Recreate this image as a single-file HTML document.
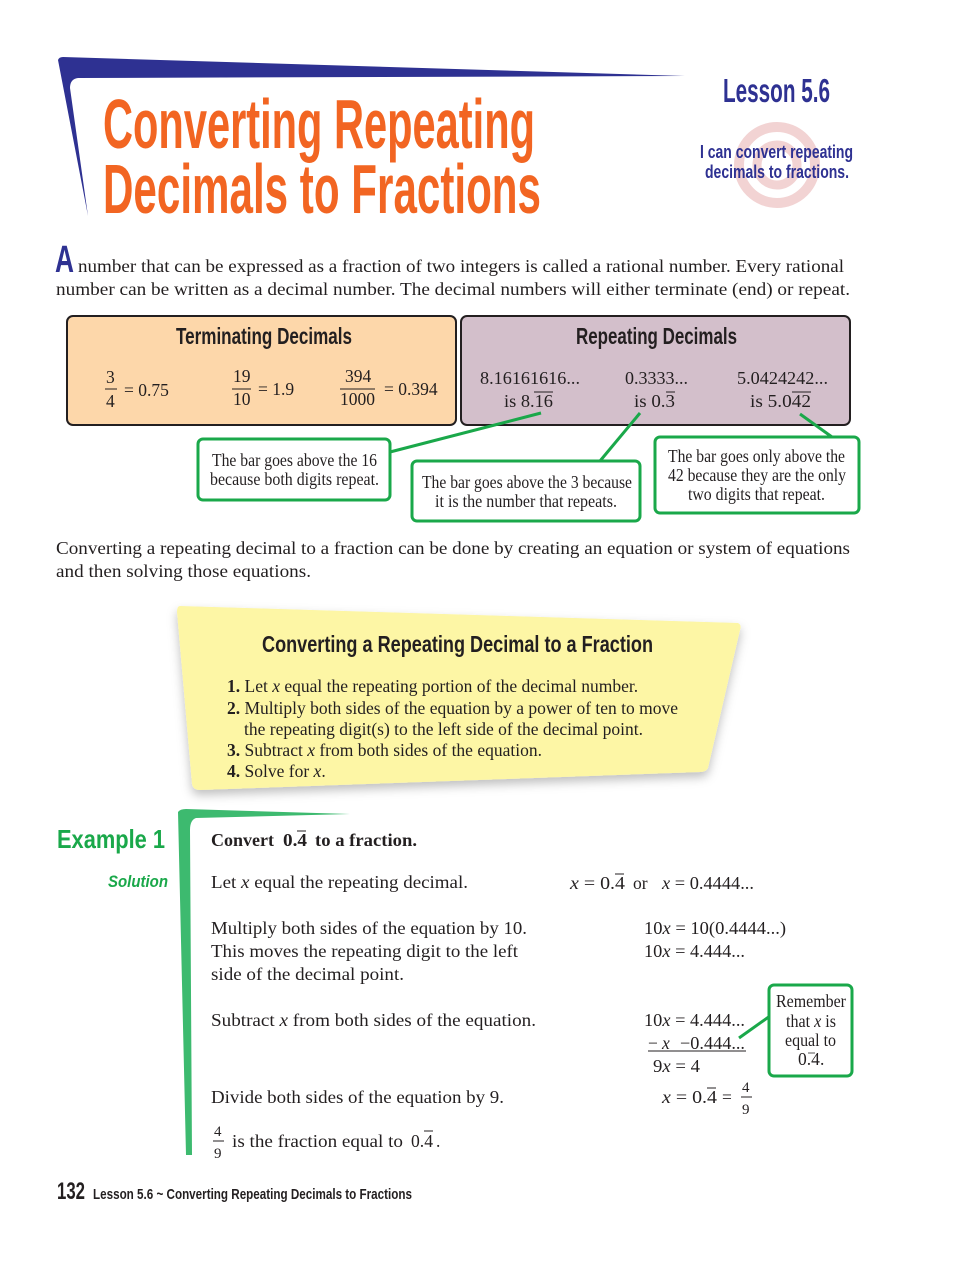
<!DOCTYPE html>
<html><head><meta charset="utf-8"><style>
html,body{margin:0;padding:0;background:#fff;}
svg{display:block}
.s{font-family:"Liberation Serif",serif;font-size:17.5px;fill:#231f20}
.c{font-family:"Liberation Sans Narrow","Liberation Sans",sans-serif;font-weight:bold}
.i{font-style:italic}
</style></head><body>
<svg width="979" height="1266" viewBox="0 0 979 1266" xmlns="http://www.w3.org/2000/svg">
<defs>
<filter id="sh" x="-10%" y="-10%" width="120%" height="130%"><feDropShadow dx="0" dy="5" stdDeviation="5" flood-color="#000" flood-opacity="0.25"/></filter>
</defs>
<path d="M58,60 Q59,57 63,57 L685,76 L78,78 Q70,79 70,88 L88,216 Z" fill="#2e3192"/>
<text class="c" x="103" y="148" font-size="70" fill="#f26522" textLength="432" lengthAdjust="spacingAndGlyphs">Converting Repeating</text>
<text class="c" x="103" y="213" font-size="70" fill="#f26522" textLength="438" lengthAdjust="spacingAndGlyphs">Decimals to Fractions</text>
<text class="c" x="723" y="102" font-size="33" fill="#2e3192" textLength="107" lengthAdjust="spacingAndGlyphs">Lesson 5.6</text>
<circle cx="777" cy="165" r="38" fill="none" stroke="#f2d3d3" stroke-width="10"/>
<circle cx="777" cy="165" r="20" fill="none" stroke="#f2d3d3" stroke-width="9"/>
<text class="c" x="700" y="158" font-size="18" fill="#2e3192" textLength="153" lengthAdjust="spacingAndGlyphs">I can convert repeating</text>
<text class="c" x="705" y="178" font-size="18" fill="#2e3192" textLength="144" lengthAdjust="spacingAndGlyphs">decimals to fractions.</text>

<text class="c" x="55" y="272" font-size="38" fill="#2e3192" textLength="19" lengthAdjust="spacingAndGlyphs">A</text>
<text class="s" x="78" y="272" textLength="766" lengthAdjust="spacingAndGlyphs">number that can be expressed as a fraction of two integers is called a rational number. Every rational</text>
<text class="s" x="56" y="295" textLength="794" lengthAdjust="spacingAndGlyphs">number can be written as a decimal number. The decimal numbers will either terminate (end) or repeat.</text>

<rect x="67" y="316" width="389" height="109" rx="6" fill="#fdd7aa" stroke="#231f20" stroke-width="2"/>
<rect x="461" y="316" width="389" height="109" rx="6" fill="#d3bfcb" stroke="#231f20" stroke-width="2"/>
<text class="c" x="176" y="344" font-size="23" fill="#231f20" textLength="176" lengthAdjust="spacingAndGlyphs">Terminating Decimals</text>
<text class="c" x="576" y="344" font-size="23" fill="#231f20" textLength="161" lengthAdjust="spacingAndGlyphs">Repeating Decimals</text>
<g class="s" font-size="16">
<text x="106" y="383">3</text><line x1="105" y1="389" x2="117" y2="389" stroke="#231f20"/><text x="106" y="407">4</text>
<text x="124" y="396">= 0.75</text>
<text x="233" y="382">19</text><line x1="232" y1="389" x2="251" y2="389" stroke="#231f20"/><text x="233" y="405">10</text>
<text x="258" y="395">= 1.9</text>
<text x="345" y="382">394</text><line x1="340" y1="389" x2="375" y2="389" stroke="#231f20"/><text x="340" y="405">1000</text>
<text x="384" y="395">= 0.394</text>
<text x="480" y="384" textLength="100" lengthAdjust="spacingAndGlyphs">8.16161616...</text><text x="504" y="407" textLength="49" lengthAdjust="spacingAndGlyphs">is 8.16</text>
<line x1="534" y1="392" x2="553" y2="392" stroke="#231f20"/>
<text x="625" y="384" textLength="63" lengthAdjust="spacingAndGlyphs">0.3333...</text><text x="634" y="407" textLength="41" lengthAdjust="spacingAndGlyphs">is 0.3</text>
<line x1="666" y1="392" x2="675" y2="392" stroke="#231f20"/>
<text x="737" y="384" textLength="91" lengthAdjust="spacingAndGlyphs">5.0424242...</text><text x="750" y="407" textLength="61" lengthAdjust="spacingAndGlyphs">is 5.042</text>
<line x1="792" y1="392" x2="811" y2="392" stroke="#231f20"/>
</g>
<g stroke="#1aa84a" stroke-width="3" fill="none">
<line x1="541" y1="413" x2="390" y2="452"/>
<line x1="640" y1="413" x2="600" y2="461"/>
<line x1="800" y1="414" x2="832" y2="437"/>
<rect x="198" y="439" width="192" height="61" rx="5" fill="#fff"/>
<rect x="412" y="461" width="228" height="60" rx="5" fill="#fff"/>
<rect x="655" y="437" width="204" height="76" rx="5" fill="#fff"/>
</g>
<g class="s" font-size="14" fill="#333">
<text x="212" y="466" textLength="165" lengthAdjust="spacingAndGlyphs">The bar goes above the 16</text>
<text x="210" y="485" textLength="169" lengthAdjust="spacingAndGlyphs">because both digits repeat.</text>
<text x="422" y="488" textLength="210" lengthAdjust="spacingAndGlyphs">The bar goes above the 3 because</text>
<text x="435" y="507" textLength="182" lengthAdjust="spacingAndGlyphs">it is the number that repeats.</text>
<text x="668" y="462" textLength="177" lengthAdjust="spacingAndGlyphs">The bar goes only above the</text>
<text x="668" y="481" textLength="178" lengthAdjust="spacingAndGlyphs">42 because they are the only</text>
<text x="688" y="500" textLength="137" lengthAdjust="spacingAndGlyphs">two digits that repeat.</text>
</g>

<text class="s" x="56" y="554" textLength="794" lengthAdjust="spacingAndGlyphs">Converting a repeating decimal to a fraction can be done by creating an equation or system of equations</text>
<text class="s" x="56" y="577" textLength="255" lengthAdjust="spacingAndGlyphs">and then solving those equations.</text>

<path d="M180,606 L738,623 Q742,625 740,630 L708,768 Q706,772 700,772 L200,790 Q193,790 192,784 L177,612 Q177,606 180,606 Z" fill="#fdf6a5" filter="url(#sh)"/>
<text class="c" x="262" y="652" font-size="23" fill="#231f20" textLength="391" lengthAdjust="spacingAndGlyphs">Converting a Repeating Decimal to a Fraction</text>
<g class="s" font-size="16.5">
<text x="227" y="692"><tspan font-weight="bold">1.</tspan> Let <tspan class="i">x</tspan> equal the repeating portion of the decimal number.</text>
<text x="227" y="714"><tspan font-weight="bold">2.</tspan> Multiply both sides of the equation by a power of ten to move</text>
<text x="244" y="735">the repeating digit(s) to the left side of the decimal point.</text>
<text x="227" y="756"><tspan font-weight="bold">3.</tspan> Subtract <tspan class="i">x</tspan> from both sides of the equation.</text>
<text x="227" y="777"><tspan font-weight="bold">4.</tspan> Solve for <tspan class="i">x</tspan>.</text>
</g>

<path d="M178,812 Q180,809 186,809 L350,814 L196,818 Q190,820 190,830 L192,1155 L186,1155 Z" fill="#3dba6f"/>
<text class="c" x="57" y="848" font-size="26" fill="#1aa84a" textLength="108" lengthAdjust="spacingAndGlyphs">Example 1</text>
<text class="c i" x="108" y="887" font-size="17" fill="#1aa84a" textLength="60" lengthAdjust="spacingAndGlyphs">Solution</text>

<g class="s" font-size="18">
<text x="211" y="846" font-weight="bold" textLength="63" lengthAdjust="spacingAndGlyphs">Convert</text>
<text x="283" y="846" font-weight="bold" textLength="24" lengthAdjust="spacingAndGlyphs">0.4</text>
<text x="315" y="846" font-weight="bold" textLength="102" lengthAdjust="spacingAndGlyphs">to a fraction.</text>
<line x1="297" y1="831" x2="306" y2="831" stroke="#231f20"/>
<text x="211" y="888" textLength="257" lengthAdjust="spacingAndGlyphs">Let <tspan class="i">x</tspan> equal the repeating decimal.</text>
<text x="570" y="889" textLength="55" lengthAdjust="spacingAndGlyphs"><tspan class="i">x</tspan> = 0.4</text>
<text x="633" y="889">or</text>
<text x="662" y="889" textLength="92" lengthAdjust="spacingAndGlyphs"><tspan class="i">x</tspan> = 0.4444...</text>
<line x1="615" y1="874" x2="624" y2="874" stroke="#231f20"/>
<text x="211" y="934" textLength="316" lengthAdjust="spacingAndGlyphs">Multiply both sides of the equation by 10.</text>
<text x="211" y="957" textLength="307" lengthAdjust="spacingAndGlyphs">This moves the repeating digit to the left</text>
<text x="211" y="980" textLength="193" lengthAdjust="spacingAndGlyphs">side of the decimal point.</text>
<text x="644" y="934" textLength="142" lengthAdjust="spacingAndGlyphs">10<tspan class="i">x</tspan> = 10(0.4444...)</text>
<text x="644" y="957" textLength="101" lengthAdjust="spacingAndGlyphs">10<tspan class="i">x</tspan> = 4.444...</text>
<text x="211" y="1026" textLength="325" lengthAdjust="spacingAndGlyphs">Subtract <tspan class="i">x</tspan> from both sides of the equation.</text>
<text x="644" y="1026" textLength="101" lengthAdjust="spacingAndGlyphs">10<tspan class="i">x</tspan> = 4.444...</text>
<text x="648" y="1049">−</text><text x="662" y="1049" class="i">x</text>
<text x="680" y="1049" textLength="65" lengthAdjust="spacingAndGlyphs">−0.444...</text>
<line x1="648" y1="1051" x2="746" y2="1051" stroke="#231f20"/>
<text x="653" y="1072" textLength="47" lengthAdjust="spacingAndGlyphs">9<tspan class="i">x</tspan> = 4</text>
<text x="211" y="1103" textLength="293" lengthAdjust="spacingAndGlyphs">Divide both sides of the equation by 9.</text>
<text x="662" y="1103" textLength="55" lengthAdjust="spacingAndGlyphs"><tspan class="i">x</tspan> = 0.4</text>
<text x="722" y="1103">=</text>
<line x1="707" y1="1088" x2="716" y2="1088" stroke="#231f20"/>
<text x="742" y="1092" font-size="15">4</text><line x1="741" y1="1097" x2="752" y2="1097" stroke="#231f20"/><text x="742" y="1114" font-size="15">9</text>
<text x="214" y="1136" font-size="15">4</text><line x1="213" y1="1141" x2="224" y2="1141" stroke="#231f20"/><text x="214" y="1158" font-size="15">9</text>
<text x="232" y="1147" textLength="171" lengthAdjust="spacingAndGlyphs">is the fraction equal to</text>
<text x="411" y="1147" textLength="22" lengthAdjust="spacingAndGlyphs">0.4</text>
<text x="436" y="1147">.</text>
<line x1="424" y1="1131" x2="433" y2="1131" stroke="#231f20"/>
</g>
<line x1="739" y1="1038" x2="770" y2="1016" stroke="#1aa84a" stroke-width="3"/>
<rect x="769" y="985" width="83" height="91" rx="5" fill="#fff" stroke="#1aa84a" stroke-width="3"/>
<g class="s" font-size="14" fill="#555">
<text x="776" y="1007" textLength="70" lengthAdjust="spacingAndGlyphs">Remember</text>
<text x="786" y="1027" textLength="50" lengthAdjust="spacingAndGlyphs">that <tspan class="i">x</tspan> is</text>
<text x="785" y="1046" textLength="51" lengthAdjust="spacingAndGlyphs">equal to</text>
<text x="798" y="1065">0.4</text>
<text x="820" y="1065">.</text>
</g>
<line x1="808" y1="1053" x2="815" y2="1053" stroke="#555"/>

<text class="c" x="57" y="1199" font-size="24" fill="#231f20" textLength="28" lengthAdjust="spacingAndGlyphs">132</text>
<text class="c" x="93" y="1199" font-size="15" fill="#231f20" textLength="319" lengthAdjust="spacingAndGlyphs">Lesson 5.6 ~ Converting Repeating Decimals to Fractions</text>
</svg>
</body></html>
